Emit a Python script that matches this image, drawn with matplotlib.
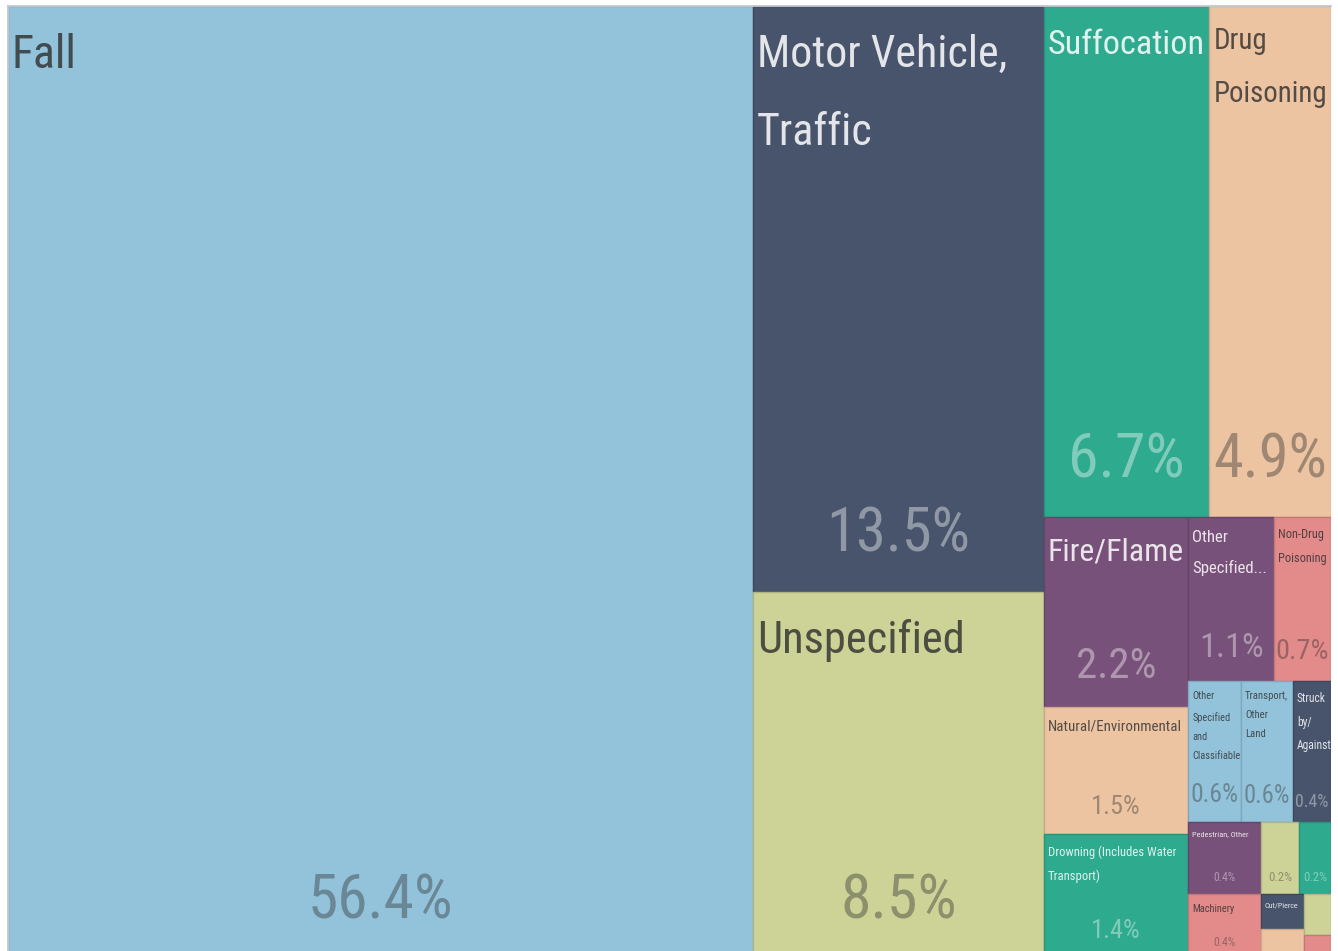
import os
import glob
import matplotlib
matplotlib.use("Agg")
import matplotlib.pyplot as plt
from matplotlib import font_manager as fm
from matplotlib.font_manager import FontProperties
from matplotlib.textpath import TextPath
from matplotlib.patches import Rectangle
import matplotlib.colors as mcolors

# ---------------- data ----------------
categories = [
    "Fall", "Motor Vehicle, Traffic", "Unspecified", "Suffocation", "Drug Poisoning",
    "Fire/Flame", "Natural/Environmental", "Drowning (Includes Water Transport)",
    "Other Specified, Not Elsewhere Classifiable", "Non-Drug Poisoning",
    "Other Specified and Classifiable", "Transport, Other Land", "Struck by/Against",
    "Pedestrian, Other", "Machinery", "Other Transport", "Pedal Cyclist, Other",
    "Cut/Pierce", "Firearm", "Overexertion", "Not Classified",
]
values = [56.36, 13.52, 8.46, 6.72, 4.93, 2.18, 1.46, 1.42, 1.12, 0.74,
          0.59, 0.58, 0.43, 0.41, 0.37, 0.22, 0.18, 0.12, 0.10, 0.09, 0.05]

# text shown in each cell ("" = no room for the name)
display_names = [
    "Fall", "Motor Vehicle,\nTraffic", "Unspecified", "Suffocation", "Drug\nPoisoning",
    "Fire/Flame", "Natural/Environmental", "Drowning (Includes Water\nTransport)",
    "Other\nSpecified...", "Non-Drug\nPoisoning",
    "Other\nSpecified\nand\nClassifiable", "Transport,\nOther\nLand", "Struck\nby/\nAgainst",
    "Pedestrian, Other", "Machinery", "", "", "Cut/Pierce", "", "", "",
]

# ---------------- style ----------------
BLUE, SLATE, OLIVE, TEAL = "#93C3DB", "#47546C", "#CDD297", "#2EAA8E"
PEACH, PURPLE, PINK = "#EDC4A2", "#775179", "#E38A8A"
cell_colors = [BLUE, SLATE, OLIVE, TEAL, PEACH, PURPLE, PEACH, TEAL, PURPLE, PINK,
               BLUE, BLUE, SLATE, PURPLE, PINK, OLIVE, TEAL, SLATE, PEACH, OLIVE, PINK]
# reference (regular-width Arial-like) font sizes, pt; 0 = hidden
name_sizes = [50, 50, 50, 40, 34, 36, 17, 14, 19, 14, 12, 12, 13, 9, 11.5, 0, 0, 9, 0, 0, 0]
pct_sizes = [63, 63, 63, 63, 63, 44, 27, 27, 35, 30, 26, 25, 18, 12, 12, 13, 13, 0, 0, 0, 0]
# items per strip of the treemap
STRIPS = [1, 2, 2, 3, 2, 3, 2, 2, 2, 1, 1]
STRETCH = 1.85  # the layout was computed on a horizontally wider canvas
SQUEEZE = 0.54  # horizontal text compression of the reference
BOOST = 1.06    # allow slightly wider text to gain height


def pick_font():
    prefs = ["NotoSans-ExtraCondensed.ttf", "NotoSans-Condensed.ttf",
             "LiberationSansNarrow-Regular.ttf", "RobotoCondensed-Regular.ttf",
             "Roboto_Condensed-Regular.ttf", "OpenSans_Condensed-Regular.ttf",
             "OpenSans-CondensedRegular.ttf", "DejaVuSansCondensed.ttf",
             "NotoSans-SemiCondensed.ttf"]
    files = {os.path.basename(f.fname): f.fname for f in fm.fontManager.ttflist}
    for p in glob.glob("/usr/share/fonts/**/*.ttf", recursive=True):
        files.setdefault(os.path.basename(p), p)
    for p in prefs:
        if p in files:
            return files[p]
    for f in fm.fontManager.ttflist:
        if f.stretch == "condensed" and f.style == "normal" and f.weight in (400, "normal"):
            return f.fname
    return fm.findfont(FontProperties(family="Liberation Sans"))


FONT = pick_font()
REF_FONT = fm.findfont(FontProperties(family="Liberation Sans"))
_cache = {}


def text_width(s, fname):
    key = (s, fname)
    if key not in _cache:
        _cache[key] = max(TextPath((0, 0), ln, size=100, prop=FontProperties(fname=fname))
                          .get_extents().width for ln in s.split("\n")) / 100.0
    return _cache[key]


def fit_size(s, ref_size, avail_px):
    """size (pt) for the condensed font so the text is about as wide as in the reference"""
    k = SQUEEZE * text_width(s, REF_FONT) / text_width(s, FONT)
    size = ref_size * min(1.0, k * BOOST)
    max_size = avail_px / (text_width(s, FONT) * PX)
    return min(size, max_size)


def strip_layout(vals, strips, x, y, w, h, stretch):
    scale = w * h / sum(vals)
    rects, i = [], 0
    for n in strips:
        grp = vals[i:i + n]
        i += n
        area = sum(grp) * scale
        if w * stretch >= h:          # wide: column on the left
            cw = area / h
            yy = y
            for v in grp:
                hh = v * scale / cw
                rects.append((x, yy, cw, hh))
                yy += hh
            x += cw
            w -= cw
        else:                         # tall: row on top
            rh = area / w
            xx = x
            for v in grp:
                ww = v * scale / rh
                rects.append((xx, y, ww, rh))
                xx += ww
            y += rh
            h -= rh
    return rects


PX = 100 / 72.0
FIG_W, FIG_H = 1338, 951
L_PX, R_PX, T_PX, B_PX = 7.5, 1331, 6, 958
UNIT_PX = B_PX - T_PX
fig = plt.figure(figsize=(FIG_W / 100, FIG_H / 100), dpi=100)
fig.patch.set_facecolor("white")
ax = fig.add_axes([L_PX / FIG_W, 1 - B_PX / FIG_H, (R_PX - L_PX) / FIG_W, (B_PX - T_PX) / FIG_H])
W = (R_PX - L_PX) / UNIT_PX
ax.set_xlim(0, W)
ax.set_ylim(1, 0)
ax.set_xticks([])
ax.set_yticks([])
for s in ["right", "bottom"]:
    ax.spines[s].set_visible(False)
for s in ["top", "left"]:
    ax.spines[s].set_color("#c4c8cc")
    ax.spines[s].set_linewidth(1.3)

rects = strip_layout(values, STRIPS, 0, 0, W, 1.0, STRETCH)

for (x0, y0, w, h), val, name, col, nfs, pfs in zip(rects, values, display_names,
                                                   cell_colors, name_sizes, pct_sizes):
    rgb = mcolors.to_rgb(col)
    edge = tuple(c * 0.86 for c in rgb)
    ax.add_patch(Rectangle((x0, y0), w, h, facecolor=col, edgecolor=edge, linewidth=1.0))
    bright = 0.299 * rgb[0] + 0.587 * rgb[1] + 0.114 * rgb[2]
    tcol = "#2d2d2d" if bright > 0.6 else "white"
    name_alpha = 0.8 if bright > 0.6 else 0.85
    cell_px = w * UNIT_PX
    margin = min(12.0, 0.11 * cell_px)
    if name and nfs > 0:
        size = fit_size(name, nfs, cell_px - margin)
        ref_em = nfs * PX
        my_em = size * PX
        top_px = 5 + 0.19 * ref_em + 0.5 * (0.716 * ref_em - 0.711 * my_em)
        spacing = 1.33 * nfs / size
        ax.annotate(name, xy=(x0, y0), xytext=(3.0, -top_px / PX), textcoords="offset points",
                    ha="left", va="top", color=tcol, alpha=name_alpha, linespacing=spacing,
                    fontproperties=FontProperties(fname=FONT, size=size))
    if pfs > 0:
        label = f"{val:.1f}%"
        size = fit_size(label, pfs, cell_px - margin)
        cap_px = 0.716 * pfs * PX
        my_cap = 0.711 * size * PX
        pad_px = 6 + 0.38 * cap_px + 0.5 * (cap_px - my_cap)
        ax.annotate(label, xy=(x0 + w / 2, y0 + h), xytext=(0, pad_px / PX),
                    textcoords="offset points", ha="center", va="baseline",
                    color=tcol, alpha=0.4,
                    fontproperties=FontProperties(fname=FONT, size=size))

fig.savefig("out.png", dpi=100, facecolor="white")
